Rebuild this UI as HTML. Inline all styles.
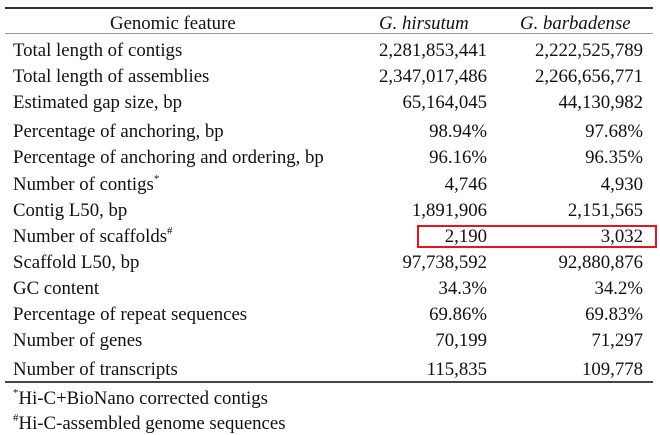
<!DOCTYPE html>
<html>
<head>
<meta charset="utf-8">
<style>
  html, body { margin:0; padding:0; background:#fff; }
  body { width:660px; height:435px; position:relative; overflow:hidden;
         font-family:"Liberation Serif", "Times New Roman", serif; font-size:18.8px; color:#111; }
  .r { position:absolute; left:0; width:660px; height:20px; line-height:20px; white-space:nowrap; }
  .r span { position:absolute; top:0; }
  .l { left:13px; }
  .c2 { right:173px; text-align:right; }
  .c3 { right:17px; text-align:right; }
  .it { font-style:italic; }
  sup { font-size:11px; position:relative; top:-1px; vertical-align:top; line-height:11px; }
  .line { position:absolute; left:5px; width:648px; }
</style>
</head>
<body>
  <div class="line" style="top:7px;height:2px;background:#333;"></div>
  <div class="line" style="top:33px;height:1px;background:#999;"></div>
  <div class="line" style="top:381px;height:2px;background:#444;"></div>

  <div style="position:absolute;left:417px;top:225px;width:236px;height:19px;border:2px solid #e8141b;"></div>

  <div class="r" style="top:13.6px"><span style="left:110px">Genomic feature</span><span class="it" style="left:379px">G. hirsutum</span><span class="it" style="left:520px">G. barbadense</span></div>

  <div class="r" style="top:41.2px"><span class="l">Total length of contigs</span><span class="c2">2,281,853,441</span><span class="c3">2,222,525,789</span></div>
  <div class="r" style="top:67.2px"><span class="l">Total length of assemblies</span><span class="c2">2,347,017,486</span><span class="c3">2,266,656,771</span></div>
  <div class="r" style="top:92.9px"><span class="l">Estimated gap size, bp</span><span class="c2">65,164,045</span><span class="c3">44,130,982</span></div>
  <div class="r" style="top:121.5px"><span class="l">Percentage of anchoring, bp</span><span class="c2">98.94%</span><span class="c3">97.68%</span></div>
  <div class="r" style="top:148.2px"><span class="l">Percentage of anchoring and ordering, bp</span><span class="c2">96.16%</span><span class="c3">96.35%</span></div>
  <div class="r" style="top:175.2px"><span class="l">Number of contigs<sup>*</sup></span><span class="c2">4,746</span><span class="c3">4,930</span></div>
  <div class="r" style="top:200.7px"><span class="l">Contig L50, bp</span><span class="c2">1,891,906</span><span class="c3">2,151,565</span></div>
  <div class="r" style="top:227px"><span class="l">Number of scaffolds<sup>#</sup></span><span class="c2">2,190</span><span class="c3">3,032</span></div>
  <div class="r" style="top:252.9px"><span class="l">Scaffold L50, bp</span><span class="c2">97,738,592</span><span class="c3">92,880,876</span></div>
  <div class="r" style="top:278.9px"><span class="l">GC content</span><span class="c2">34.3%</span><span class="c3">34.2%</span></div>
  <div class="r" style="top:304.5px"><span class="l">Percentage of repeat sequences</span><span class="c2">69.86%</span><span class="c3">69.83%</span></div>
  <div class="r" style="top:331.2px"><span class="l">Number of genes</span><span class="c2">70,199</span><span class="c3">71,297</span></div>
  <div class="r" style="top:360px"><span class="l">Number of transcripts</span><span class="c2">115,835</span><span class="c3">109,778</span></div>

  <div class="r" style="top:388.9px"><span class="l"><sup>*</sup>Hi-C+BioNano corrected contigs</span></div>
  <div class="r" style="top:413.9px"><span class="l"><sup>#</sup>Hi-C-assembled genome sequences</span></div>
</body>
</html>
